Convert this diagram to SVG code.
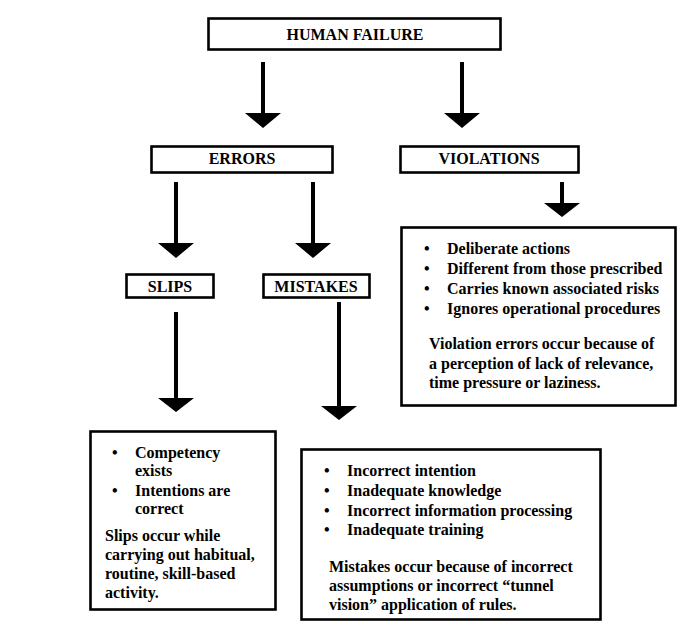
<svg xmlns="http://www.w3.org/2000/svg" width="700" height="644" viewBox="0 0 700 644">
<style>
.box{fill:#fff;stroke:#000;stroke-width:2.6}
.t{font-family:'Liberation Serif','Times New Roman','DejaVu Serif',serif;font-weight:bold;font-size:16px;fill:#000}
.c{text-anchor:middle}
.arr{fill:#000}
</style>
<rect width="700" height="644" fill="#fff"/>
<g id="connectors">
<path class="arr" d="M261,62 h4 v51 h16 l-18,15 l-18,-15 h16 z"/>
<path class="arr" d="M460,62 h4 v51 h16 l-18,15 l-18,-15 h16 z"/>
<path class="arr" d="M174,182 h4 v61 h16 l-18,15 l-18,-15 h16 z"/>
<path class="arr" d="M311,182 h4 v61 h16 l-18,15 l-18,-15 h16 z"/>
<path class="arr" d="M174,312 h4 v86 h16 l-18,14 l-18,-14 h16 z"/>
<path class="arr" d="M337,302 h4 v104 h16 l-18,14 l-18,-14 h16 z"/>
<path class="arr" d="M560,182 h4 v21 h16 l-18,14 l-18,-14 h16 z"/>
</g>
<g id="human-failure">
<rect class="box" x="208.5" y="18.5" width="292" height="31"/>
<text class="t c" x="355" y="40">HUMAN FAILURE</text>
</g>
<g id="errors">
<rect class="box" x="151.5" y="146.5" width="181" height="26"/>
<text class="t c" x="242" y="164">ERRORS</text>
</g>
<g id="violations">
<rect class="box" x="400.5" y="146.5" width="178" height="26"/>
<text class="t c" x="489" y="164">VIOLATIONS</text>
</g>
<g id="slips">
<rect class="box" x="126.5" y="274.5" width="87" height="23"/>
<text class="t c" x="170" y="292">SLIPS</text>
</g>
<g id="mistakes">
<rect class="box" x="263.5" y="274.5" width="106" height="23"/>
<text class="t c" x="316" y="292">MISTAKES</text>
</g>
<g id="violations-detail">
<rect class="box" x="401.5" y="227.5" width="274" height="178"/>
<text class="t" x="424" y="254">•</text><text class="t" x="447" y="254">Deliberate actions</text>
<text class="t" x="424" y="274">•</text><text class="t" x="447" y="274">Different from those prescribed</text>
<text class="t" x="424" y="294">•</text><text class="t" x="447" y="294">Carries known associated risks</text>
<text class="t" x="424" y="314">•</text><text class="t" x="447" y="314">Ignores operational procedures</text>
<text class="t" x="429" y="349">Violation errors occur because of</text>
<text class="t" x="429" y="369">a perception of lack of relevance,</text>
<text class="t" x="429" y="388">time pressure or laziness.</text>
</g>
<g id="slips-detail">
<rect class="box" x="90.5" y="431.5" width="185" height="178"/>
<text class="t" x="112" y="458">•</text><text class="t" x="135" y="458">Competency</text>
<text class="t" x="135" y="476">exists</text>
<text class="t" x="112" y="496">•</text><text class="t" x="135" y="496">Intentions are</text>
<text class="t" x="135" y="514">correct</text>
<text class="t" x="105" y="541">Slips occur while</text>
<text class="t" x="105" y="560">carrying out habitual,</text>
<text class="t" x="105" y="579">routine, skill-based</text>
<text class="t" x="105" y="598">activity.</text>
</g>
<g id="mistakes-detail">
<rect class="box" x="301.5" y="449.5" width="299" height="170"/>
<text class="t" x="324" y="476">•</text><text class="t" x="347" y="476">Incorrect intention</text>
<text class="t" x="324" y="496">•</text><text class="t" x="347" y="496">Inadequate knowledge</text>
<text class="t" x="324" y="516">•</text><text class="t" x="347" y="516">Incorrect information processing</text>
<text class="t" x="324" y="535">•</text><text class="t" x="347" y="535">Inadequate training</text>
<text class="t" x="329" y="572">Mistakes occur because of incorrect</text>
<text class="t" x="329" y="591">assumptions or incorrect “tunnel</text>
<text class="t" x="329" y="610">vision” application of rules.</text>
</g>
</svg>
